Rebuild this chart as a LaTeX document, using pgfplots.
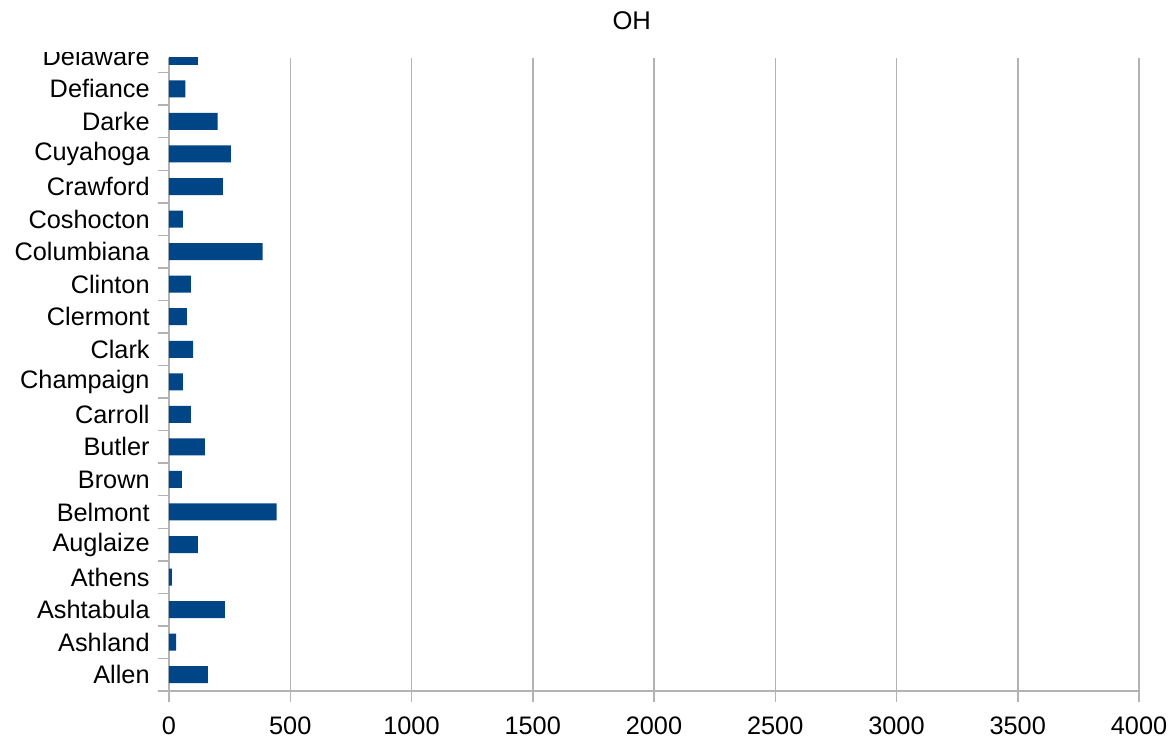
\documentclass[border=0pt]{standalone}
\usepackage{fontspec}
\setmainfont{Liberation Sans}
\usepackage{pgfplots}
\pgfplotsset{compat=1.18}
\definecolor{barblue}{HTML}{004586}
\definecolor{gridgray}{HTML}{B3B3B3}
\begin{document}
\begin{tikzpicture}
\begin{axis}[
  at={(0,0)}, anchor=south west,
  scale only axis, width=485pt, height=316.5pt,
  xbar, bar width=8.5pt,
  xmin=0, xmax=4000, ymin=-0.5, ymax=18.95,
  xtick={0,500,...,4000},
  ytick={0,...,18},
  yticklabels={Allen,Ashland,Ashtabula,Athens,Auglaize,Belmont,Brown,Butler,Carroll,Champaign,Clark,Clermont,Clinton,Columbiana,Coshocton,Crawford,Cuyahoga,Darke,Defiance},
  minor ytick={-0.5,0.5,...,18.5},
  axis x line*=bottom, axis y line*=left,
  axis line style={-, gridgray, line width=0.75pt},
  xmajorgrids, major grid style={gridgray, line width=0.75pt},
  tick style={gridgray, line width=0.75pt},
  major y tick style={draw=none},
  tick align=outside,
  major tick length=5.5pt, minor tick length=5.5pt,
  tick label style={font=\fontsize{12.65}{15}\selectfont},
  /pgf/number format/assume math mode=true,
  /pgf/number format/1000 sep={},
  xticklabel style={anchor=base, inner sep=0pt, yshift=-16.5pt},
  yticklabel style={anchor=east, inner sep=0pt, xshift=-4pt},
  clip=true,
]
\addplot[fill=barblue, draw=none] coordinates {
  (160,0) (29,1) (230,2) (12,3) (119,4) (444,5) (53,6) (148,7) (90,8) (57,9)
  (99,10) (74,11) (90,12) (386,13) (57,14) (222,15) (255,16) (201,17) (68,18) (119,19)
};
\coordinate (del) at (axis cs:0,19);
\end{axis}
\begin{scope}
  \clip (-84.5pt,0pt) rectangle (0pt,319pt);
  \node[anchor=east, inner sep=0pt, font=\fontsize{12.65}{15}\selectfont] at ([xshift=-9.5pt]del) {Delaware};
\end{scope}
\node[anchor=base, inner sep=0pt, font=\fontsize{12.8}{15}\selectfont] at (231.35pt,330.85pt) {OH};
\pgfresetboundingbox
\path (-84.5pt,-26pt) rectangle (501.5pt,345.5pt);
\end{tikzpicture}
\end{document}
